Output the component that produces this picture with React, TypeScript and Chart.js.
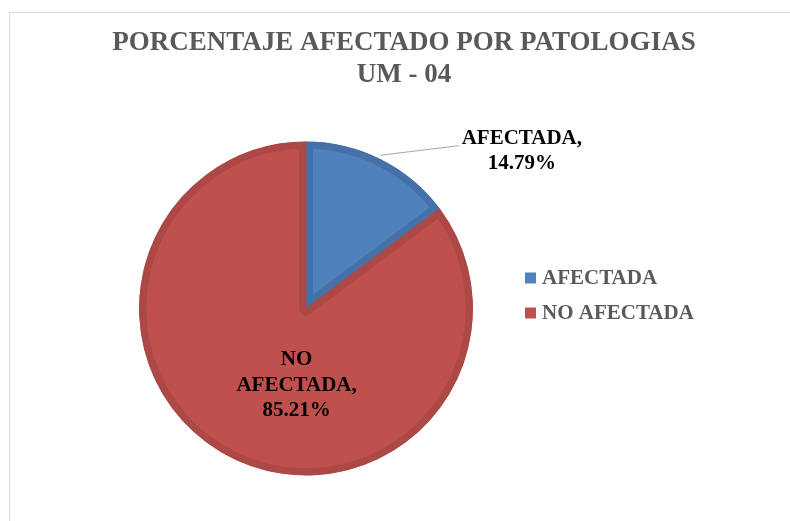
import React, { useEffect, useRef } from "react";
import { Chart, registerables, layouts } from "chart.js";

Chart.register(...registerables);

const titleLines = ["PORCENTAJE AFECTADO POR PATOLOGIAS", "UM - 04"];
const categories = ["AFECTADA", "NO AFECTADA"];
const values = [14.79, 85.21];
const fillColors = ["#4F81BD", "#C0504D"];
const borderColors = ["#4571A8", "#AC4845"];

const SERIF = "'Liberation Serif', 'Times New Roman', serif";

function wrapText(ctx: CanvasRenderingContext2D, text: string, maxWidth: number): string[] {
  const words = text.split(" ");
  const lines: string[] = [];
  let cur = "";
  for (const w of words) {
    const test = cur ? cur + " " + w : w;
    if (cur && ctx.measureText(test).width > maxWidth) {
      lines.push(cur);
      cur = w;
    } else {
      cur = test;
    }
  }
  if (cur) lines.push(cur);
  return lines;
}

const framePlugin = {
  id: "chartFrame",
  beforeDraw(chart: any, _args: any, opts: any) {
    const ctx: CanvasRenderingContext2D = chart.ctx;
    ctx.save();
    ctx.fillStyle = "#FFFFFF";
    ctx.fillRect(0, 0, chart.width, chart.height);
    ctx.strokeStyle = opts.color;
    ctx.lineWidth = 1;
    ctx.strokeRect(opts.left + 0.5, opts.top + 0.5, chart.width + 40, chart.height + 40);
    ctx.restore();
  },
};

const dataLabelPlugin = {
  id: "pieDataLabels",
  afterDatasetsDraw(chart: any, _args: any, opts: any) {
    const ctx: CanvasRenderingContext2D = chart.ctx;
    const meta = chart.getDatasetMeta(0);
    const ds = chart.data.datasets[0];
    meta.data.forEach((arc: any, i: number) => {
      const p = arc.getProps(["x", "y", "startAngle", "endAngle", "outerRadius"], true);
      const mid = (p.startAngle + p.endAngle) / 2;
      const place = opts.placements[i];
      const text = `${chart.data.labels[i]}, ${Number(ds.data[i]).toFixed(2)}%`;
      ctx.save();
      ctx.font = `bold ${opts.fontSize}px ${SERIF}`;
      const lines = wrapText(ctx, text, opts.maxWidth);
      const ax = p.x + Math.cos(mid) * p.outerRadius * place.r + place.dx;
      const ay = p.y + Math.sin(mid) * p.outerRadius * place.r + place.dy;
      const blockW = Math.max(...lines.map((l) => ctx.measureText(l).width));
      if (place.leader) {
        const ex = p.x + Math.cos(mid) * p.outerRadius;
        const ey = p.y + Math.sin(mid) * p.outerRadius - 4;
        ctx.strokeStyle = "#A6A6A6";
        ctx.lineWidth = 1;
        ctx.beginPath();
        ctx.moveTo(ex, ey);
        ctx.lineTo(ax - blockW / 2 - 3, ay - 5.5);
        ctx.stroke();
      }
      ctx.fillStyle = "#000000";
      ctx.textAlign = "center";
      ctx.textBaseline = "middle";
      const startY = ay - ((lines.length - 1) * opts.lineHeight) / 2;
      lines.forEach((l, k) => ctx.fillText(l, ax, startY + k * opts.lineHeight));
      ctx.restore();
    });
  },
};

const sideLegendPlugin = {
  id: "sideLegend",
  start(chart: any, _args: any, opts: any) {
    const box: any = {
      position: "right",
      weight: 1000,
      fullSize: false,
      options: { stackWeight: 1 },
      width: 0,
      height: 0,
      top: 0,
      left: 0,
      right: 0,
      bottom: 0,
      isHorizontal() {
        return false;
      },
      update(_maxW: number, maxH: number) {
        this.width = opts.boxWidth;
        this.height = maxH;
        return { width: this.width, height: this.height };
      },
      getPadding() {
        return { top: 0, left: 0, right: 0, bottom: 0 };
      },
      draw() {
        const ctx: CanvasRenderingContext2D = chart.ctx;
        const ds = chart.data.datasets[0];
        const n = chart.data.labels.length;
        const cy = (chart.chartArea.top + chart.chartArea.bottom) / 2 + opts.offsetY;
        const x0 = this.left + opts.offsetX;
        ctx.save();
        ctx.font = `bold ${opts.fontSize}px ${SERIF}`;
        ctx.textBaseline = "middle";
        ctx.textAlign = "left";
        for (let i = 0; i < n; i++) {
          const y = cy + (i - (n - 1) / 2) * opts.rowGap;
          ctx.fillStyle = ds.backgroundColor[i];
          ctx.fillRect(x0, y - opts.square / 2, opts.square, opts.square);
          ctx.fillStyle = "#595959";
          ctx.fillText(chart.data.labels[i], x0 + opts.textGap, y + 0.5);
        }
        ctx.restore();
      },
    };
    chart.$sideLegend = box;
    layouts.addBox(chart, box);
  },
  stop(chart: any) {
    if (chart.$sideLegend) layouts.removeBox(chart, chart.$sideLegend);
  },
};

export default function App() {
  const ref = useRef<HTMLCanvasElement | null>(null);
  useEffect(() => {
    if (!ref.current) return;
    const chart = new Chart(ref.current, {
      type: "pie",
      data: {
        labels: categories,
        datasets: [
          {
            data: values,
            backgroundColor: fillColors,
            borderColor: borderColors,
            borderWidth: 7,
            borderAlign: "inner",
            hoverOffset: 0,
          } as any,
        ],
      },
      options: {
        responsive: false,
        animation: false,
        radius: 167,
        layout: { padding: { top: 0, left: 0, right: 0, bottom: 8 } },
        plugins: {
          legend: { display: false },
          tooltip: { enabled: false },
          chartFrame: { left: 9, top: 12, color: "#D9D9D9" },
          title: {
            display: true,
            text: titleLines,
            color: "#595959",
            font: { family: SERIF, size: 27, weight: "bold", lineHeight: 32 / 27 },
            padding: { top: 27, bottom: 13 },
          },
          pieDataLabels: {
            fontSize: 21,
            lineHeight: 25.5,
            maxWidth: 128,
            placements: [
              { r: 1, dx: 141, dy: -8, leader: true },
              { r: 0.5, dx: 28, dy: 2, leader: false },
            ],
          },
          sideLegend: {
            boxWidth: 196,
            offsetX: -87,
            offsetY: -13,
            rowGap: 35,
            square: 11,
            textGap: 17,
            fontSize: 21,
          },
        } as any,
      } as any,
      plugins: [framePlugin, dataLabelPlugin, sideLegendPlugin] as any,
    });
    return () => chart.destroy();
  }, []);

  return (
    <div style={{ position: "fixed", left: 0, top: 0, width: 790, height: 521, overflow: "hidden", background: "#fff" }}>
      <canvas ref={ref} width={808} height={521} style={{ position: "absolute", left: 0, top: 0 }} />
    </div>
  );
}
